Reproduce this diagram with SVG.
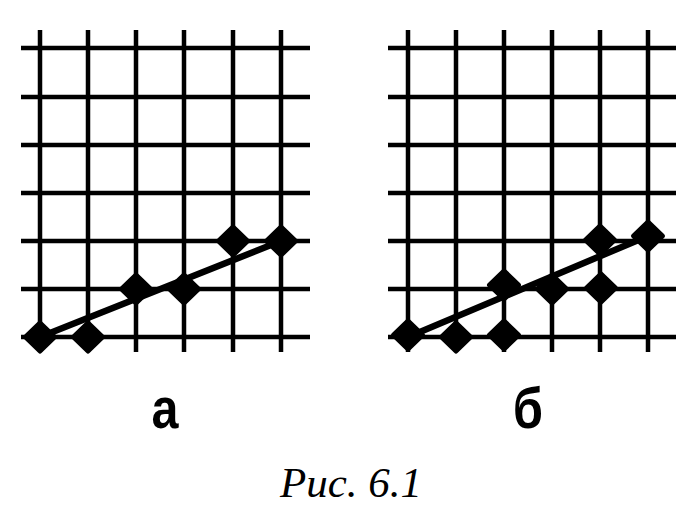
<svg xmlns="http://www.w3.org/2000/svg" width="679" height="527" viewBox="0 0 679 527">
<defs>
<style>
.g line{stroke:#000;stroke-width:4.5}
.seg{stroke:#000;stroke-width:6.5;stroke-linecap:round}
.dot{fill:#000;stroke:#000;stroke-width:5;stroke-linejoin:round}
</style>
<polygon id="d" points="0,-14 14.5,0 0,14 -14.5,0"/>
</defs>
<g id="grid-a" class="g">
<line x1="40" y1="30" x2="40" y2="352"/><line x1="88" y1="30" x2="88" y2="352"/><line x1="136" y1="30" x2="136" y2="352"/><line x1="184" y1="30" x2="184" y2="352"/><line x1="233" y1="30" x2="233" y2="352"/><line x1="281" y1="30" x2="281" y2="352"/>
<line x1="21" y1="48" x2="310" y2="48"/><line x1="21" y1="97" x2="310" y2="97"/><line x1="21" y1="145" x2="310" y2="145"/><line x1="21" y1="193" x2="310" y2="193"/><line x1="21" y1="241" x2="310" y2="241"/><line x1="21" y1="289" x2="310" y2="289"/><line x1="21" y1="337" x2="310" y2="337"/>
</g>
<g id="grid-b" class="g">
<line x1="408" y1="30" x2="408" y2="352"/><line x1="456" y1="30" x2="456" y2="352"/><line x1="504" y1="30" x2="504" y2="352"/><line x1="552" y1="30" x2="552" y2="352"/><line x1="600" y1="30" x2="600" y2="352"/><line x1="648" y1="30" x2="648" y2="352"/>
<line x1="388" y1="48" x2="676" y2="48"/><line x1="388" y1="97" x2="676" y2="97"/><line x1="388" y1="145" x2="676" y2="145"/><line x1="388" y1="193" x2="676" y2="193"/><line x1="388" y1="241" x2="676" y2="241"/><line x1="388" y1="289" x2="676" y2="289"/><line x1="388" y1="337" x2="676" y2="337"/>
</g>
<g id="connectors">
<line class="seg" x1="40" y1="337" x2="281" y2="241"/>
<line class="seg" x1="408" y1="337" x2="648" y2="236"/>
</g>
<g id="points-a">
<use href="#d" class="dot" x="40" y="337"/>
<use href="#d" class="dot" x="88" y="337"/>
<use href="#d" class="dot" x="136" y="289"/>
<use href="#d" class="dot" x="184" y="289"/>
<use href="#d" class="dot" x="233" y="241"/>
<use href="#d" class="dot" x="281" y="241"/>
</g>
<g id="points-b">
<use href="#d" class="dot" x="408" y="335"/>
<use href="#d" class="dot" x="456" y="337"/>
<use href="#d" class="dot" x="504" y="335"/>
<use href="#d" class="dot" x="504" y="285"/>
<use href="#d" class="dot" x="552" y="289"/>
<use href="#d" class="dot" x="601" y="288"/>
<use href="#d" class="dot" x="600" y="240"/>
<use href="#d" class="dot" x="648" y="236"/>
</g>
<g id="label-a"><text font-family="'Liberation Sans', sans-serif" font-weight="bold" font-size="57" x="165" y="428" text-anchor="middle" transform="translate(165 0) scale(0.85 1) translate(-165 0)">а</text></g>
<g id="label-b"><text font-family="'Liberation Sans', sans-serif" font-weight="bold" font-size="57" x="528" y="428" text-anchor="middle" transform="translate(528 0) scale(0.85 1) translate(-528 0)">б</text></g>
<g id="caption"><text font-family="serif" font-style="italic" font-size="43" x="280" y="497">Рис. 6.1</text></g>
</svg>
